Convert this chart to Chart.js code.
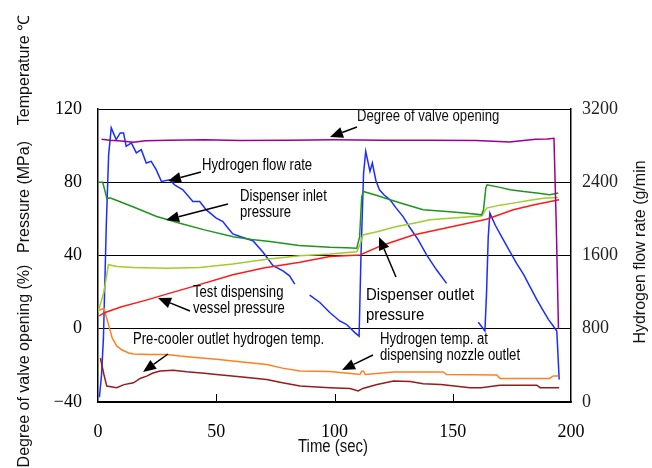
<!DOCTYPE html>
<html>
<head>
<meta charset="utf-8">
<script src="https://cdn.jsdelivr.net/npm/chart.js@4.4.1/dist/chart.umd.min.js"></script>
<style>
  html, body { margin: 0; padding: 0; background: #fff; }
  #wrap { width: 652px; height: 468px; }
</style>
</head>
<body>
<div id="wrap"><canvas id="chart" width="652" height="468"></canvas></div>
<script>
// time axis (sec) and left axis (% / MPa / degC), right axis g/min
const timeTicks = [0, 50, 100, 150, 200];
const leftTicks = [-40, 0, 40, 80, 120];
const rightTicks = [0, 800, 1600, 2400, 3200];

// degree of valve opening (%)
const valveT = [1.5, 5, 10, 15, 20, 30, 45, 60, 80, 100, 120, 140, 160, 174, 180, 185, 190, 192.8, 193.8, 194.7];
const valveV = [103.5, 103, 102.5, 101.8, 102.6, 103, 103.2, 102.8, 103, 103.2, 102.9, 103, 102.8, 102, 102.8, 103.5, 103.6, 104, 55, 0];

// hydrogen flow rate (g/min), null = gap in the record
const flowT = [0.6, 1.5, 2.3, 3.5, 4.5, 5.6, 7.7, 9.4, 10.8, 11.9, 14.1, 16.2, 18.3, 20.4, 22.5, 24.6, 26.8, 30.3, 32.4, 35.9, 40.1, 43, 45.8, 50, 52.8, 55.6, 57, 61, 65.5, 69.8, 74, 78.2, 81, 83.2,
  86,
  89.5, 93.8, 98, 102.2, 105, 108.6, 110.4, 111.2, 112.3, 113.2, 115, 116, 117.5, 119, 121, 123.5, 126, 129, 132, 135.4, 139, 143.2, 147.4,
  154,
  160.8, 163.6, 164.3, 165, 165.7, 168, 171.4, 174, 177, 180, 182.7, 185.5, 188.3, 190.5, 192.5, 194, 195];
const flowV = [52, 300, 700, 1925, 2700, 2994, 2866, 2939, 2939, 2792, 2830, 2720, 2756, 2610, 2628, 2537, 2409, 2427, 2372, 2318, 2190, 2190, 2098, 2008, 1970, 1879, 1835, 1800, 1762, 1635, 1488, 1433, 1378, 1287,
  null,
  1167, 1087, 977, 885, 849, 758, 720, 1600, 2500, 2738, 2518, 2610, 2420, 2318, 2260, 2208, 2120, 2025, 1900, 1770, 1605, 1441, 1295,
  null,
  871, 776, 1200, 1800, 2063, 1930, 1770, 1650, 1515, 1390, 1258, 1120, 995, 900, 830, 776, 245];

// dispenser inlet pressure (MPa)
const inletT = [0, 2, 3.8, 5, 8, 15, 24.8, 35, 45, 57.2, 65, 72.7, 85, 98, 105, 109.4, 110.6, 111.5, 112.2, 118, 123.5, 130, 137.5, 147.4, 155, 162.2, 163, 164, 164.5, 170, 174.2, 180, 185.5, 191, 194.6];
const inletV = [80, 80, 71, 71.5, 70, 66.5, 61.3, 57.5, 54, 50.3, 48.8, 47.6, 45.5, 44.5, 44.2, 44, 50, 72, 75, 72.8, 70.4, 67.8, 65, 64, 63.2, 62.2, 65, 77, 78.6, 77.2, 75.9, 75, 74.1, 73.2, 74.1];

// dispenser outlet pressure (MPa)
const outletT = [0, 2.5, 4.4, 8, 15, 29, 43, 57, 71.3, 85.4, 98, 109.4, 110.8, 112, 118, 126.3, 133, 140.4, 150, 162.2, 163.3, 164.3, 170, 175.6, 182, 188.3, 194.6];
const outletV = [9, 20, 35, 34, 33.5, 33, 33.5, 35.3, 38, 39.9, 40.8, 42, 46, 51.2, 53, 55.8, 57.5, 59.5, 60.5, 61.6, 63.5, 65.9, 67.5, 68.6, 70, 71.3, 71.7];

// test dispensing vessel pressure (MPa)
const vesselT = [0.5, 3, 10, 20, 29, 40, 57, 70, 85.4, 98, 110.8, 120, 133.3, 150, 164.3, 175.6, 185, 195];
const vesselV = [7, 8.9, 12, 15.5, 18.9, 23, 29.5, 33.2, 36.3, 39.4, 40.3, 45.5, 51.2, 55.8, 59.8, 65, 67.8, 70.4];

// pre-cooler outlet hydrogen temp. (degC)
const precoolT = [0.5, 2.5, 4.5, 6, 8, 10, 13, 15, 22, 29, 34.7, 40, 50, 60, 71.3, 78, 85.4, 98, 108, 110.8, 111.5, 112.3, 113, 125, 146, 147.4, 168.6, 170, 191, 192.5, 194.6];
const precoolV = [10, 11.2, 2, -5, -9.5, -11.5, -13.2, -13.8, -14, -14, -14.9, -15.5, -16.7, -18, -19.5, -21.5, -23.1, -23.4, -24.6, -25, -23.2, -23.2, -25, -23.6, -23.6, -25, -25.3, -27.1, -27.1, -25.8, -25.8];

// hydrogen temp. at dispensing nozzle outlet (degC)
const nozzleT = [1, 2.5, 3.7, 7.9, 11, 15, 18, 20.6, 23, 26.2, 31.8, 37.5, 45, 50, 60, 71.3, 78, 85.4, 98, 106.6, 110, 112, 118, 125, 132, 137.5, 145, 157.3, 162, 170, 185.5, 187, 195];
const nozzleV = [-16, -25, -31.3, -32.2, -30.5, -29.5, -27, -25.9, -24.3, -23.1, -22.7, -23.5, -24.3, -25, -26.2, -27.7, -29.5, -31.3, -32.2, -32.6, -34, -32.6, -30.5, -28.6, -28.8, -30, -30.5, -32.2, -32.2, -30.8, -30.8, -32.2, -32.2];

function pts(ts, vs) {
  return ts.map((t, i) => ({ x: t, y: vs[i] }));
}

const series = [
  { label: 'Degree of valve opening', t: valveT, v: valveV, color: '#990099', axis: 'y' },
  { label: 'Dispenser inlet pressure', t: inletT, v: inletV, color: '#1f951f', axis: 'y' },
  { label: 'Dispenser outlet pressure', t: outletT, v: outletV, color: '#9fcd2a', axis: 'y' },
  { label: 'Test dispensing vessel pressure', t: vesselT, v: vesselV, color: '#ff1a1a', axis: 'y' },
  { label: 'Pre-cooler outlet hydrogen temp.', t: precoolT, v: precoolV, color: '#ff8020', axis: 'y' },
  { label: 'Hydrogen temp. at dispensing nozzle outlet', t: nozzleT, v: nozzleV, color: '#961c1c', axis: 'y' },
  { label: 'Hydrogen flow rate', t: flowT, v: flowV, color: '#1a2cff', axis: 'y1' }
];

// text labels with arrows (pixel layout)
const notes = [
  { lines: ['Degree of valve opening'], x: 357, y: 117, tail: [357, 127], tip: [330, 137] },
  { lines: ['Hydrogen flow rate'], x: 202, y: 166, tail: [201, 172], tip: [168, 181] },
  { lines: ['Dispenser inlet', 'pressure'], x: 240, y: 197, tail: [228, 204], tip: [166, 220] },
  { lines: ['Test dispensing', 'vessel pressure'], x: 193, y: 293, tail: [190, 311], tip: [158, 298] },
  { lines: ['Pre-cooler outlet hydrogen temp.'], x: 133, y: 340, tail: [168, 354], tip: [143, 372] },
  { lines: ['Dispenser outlet', 'pressure'], x: 366, y: 295, big: true, tail: [396, 277], tip: [379, 237] },
  { lines: ['Hydrogen temp. at', 'dispensing nozzle outlet'], x: 380, y: 340, tail: [373, 355], tip: [342, 370] }
];

function squeezed(ctx, text, x, y, font, sx, align) {
  ctx.save();
  ctx.font = font;
  ctx.textBaseline = 'middle';
  ctx.textAlign = align || 'left';
  ctx.translate(x, y);
  ctx.scale(sx, 1);
  ctx.fillText(text, 0, 0);
  ctx.restore();
}

function arrow(ctx, tail, tip) {
  const dx = tip[0] - tail[0], dy = tip[1] - tail[1];
  const len = Math.sqrt(dx * dx + dy * dy);
  const ux = dx / len, uy = dy / len;
  const hl = 13, hw = 5.5;
  const bx = tip[0] - ux * hl, by = tip[1] - uy * hl;
  ctx.strokeStyle = '#000';
  ctx.lineWidth = 1.5;
  ctx.beginPath();
  ctx.moveTo(tail[0], tail[1]);
  ctx.lineTo(bx, by);
  ctx.stroke();
  ctx.fillStyle = '#000';
  ctx.beginPath();
  ctx.moveTo(tip[0], tip[1]);
  ctx.lineTo(bx - uy * hw, by + ux * hw);
  ctx.lineTo(bx + uy * hw, by - ux * hw);
  ctx.closePath();
  ctx.fill();
}

const decor = {
  id: 'decor',
  afterDatasetsDraw(chart) {
    const ctx = chart.ctx;
    const x = chart.scales.x, a = chart.chartArea;
    // inward tick marks on time axis
    ctx.save();
    ctx.strokeStyle = '#000';
    ctx.lineWidth = 1;
    [50, 100, 150].forEach(t => {
      const px = Math.round(x.getPixelForValue(t)) + 0.5;
      ctx.beginPath();
      ctx.moveTo(px, a.bottom);
      ctx.lineTo(px, a.bottom - 8);
      ctx.stroke();
    });
    ctx.fillStyle = '#111';
    notes.forEach(n => {
      const font = n.big ? '17px "Liberation Sans", Arial, sans-serif' : '16px "Liberation Sans", Arial, sans-serif';
      const sx = n.big ? 0.88 : 0.82;
      const lh = n.big ? 20 : 16;
      n.lines.forEach((s, i) => squeezed(ctx, s, n.x, n.y + i * lh, font, sx));
      arrow(ctx, n.tail, n.tip);
    });
    ctx.restore();
  },
  afterDraw(chart) {
    const ctx = chart.ctx;
    ctx.save();
    ctx.fillStyle = '#111';
    // left axis title, rotated
    const f = '16px "Liberation Sans", Arial, sans-serif';
    [['Degree of valve opening (%)', 366], ['Pressure (MPa)', 197], ['Temperature \u2103', 70]].forEach(([s, cy]) => {
      ctx.save();
      ctx.translate(25, cy);
      ctx.rotate(-Math.PI / 2);
      ctx.font = f;
      ctx.textAlign = 'center';
      ctx.textBaseline = 'middle';
      ctx.fillText(s, 0, 0);
      ctx.restore();
    });
    ctx.save();
    ctx.translate(641, 252);
    ctx.rotate(-Math.PI / 2);
    ctx.font = f;
    ctx.textAlign = 'center';
    ctx.textBaseline = 'middle';
    ctx.fillText('Hydrogen flow rate (g/min', 0, 0);
    ctx.restore();
    squeezed(ctx, 'Time (sec)', 333, 447, '18px "Liberation Sans", Arial, sans-serif', 0.83, 'center');
    ctx.restore();
  }
};

const serifTicks = { family: '"Liberation Serif", "Times New Roman", serif', size: 18 };

new Chart(document.getElementById('chart').getContext('2d'), {
  type: 'line',
  data: {
    datasets: series.map(s => ({
      label: s.label,
      data: pts(s.t, s.v),
      borderColor: s.color,
      backgroundColor: s.color,
      borderWidth: 1.5,
      pointRadius: 0,
      tension: 0,
      spanGaps: false,
      yAxisID: s.axis
    }))
  },
  options: {
    responsive: false,
    animation: false,
    layout: { padding: { top: 109, left: 0, right: 0, bottom: 0 } },
    plugins: { legend: { display: false }, tooltip: { enabled: false } },
    scales: {
      x: {
        type: 'linear',
        min: timeTicks[0],
        max: timeTicks[timeTicks.length - 1],
        afterBuildTicks: s => { s.ticks = timeTicks.map(v => ({ value: v })); },
        grid: { display: false, drawTicks: false },
        border: { color: '#000', width: 1.5 },
        ticks: { color: '#000', font: serifTicks, padding: 19, maxRotation: 0, callback: v => String(v) },
        afterFit: s => { s.height = 66; }
      },
      y: {
        position: 'left',
        min: leftTicks[0],
        max: leftTicks[leftTicks.length - 1],
        afterBuildTicks: s => { s.ticks = leftTicks.map(v => ({ value: v })); },
        grid: { color: '#000', lineWidth: 1, drawTicks: false },
        border: { color: '#000', width: 1.5 },
        ticks: { color: '#000', font: serifTicks, padding: 16, callback: v => v < 0 ? '\u2212' + Math.abs(v) : String(v) },
        afterFit: s => { s.width = 98; }
      },
      y1: {
        position: 'right',
        min: rightTicks[0],
        max: rightTicks[rightTicks.length - 1],
        afterBuildTicks: s => { s.ticks = rightTicks.map(v => ({ value: v })); },
        grid: { drawOnChartArea: false, drawTicks: false },
        border: { color: '#000', width: 1.5 },
        ticks: { color: '#222', font: serifTicks, padding: 11, callback: v => String(v) },
        afterFit: s => { s.width = 81; }
      }
    }
  },
  plugins: [decor]
});
</script>
</body>
</html>
